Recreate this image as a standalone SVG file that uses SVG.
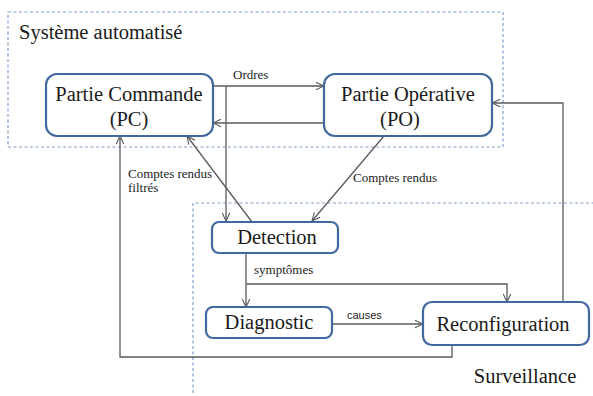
<svg xmlns="http://www.w3.org/2000/svg" width="593" height="396" viewBox="0 0 593 396">
<defs>
<marker id="arr" viewBox="0 0 10 10" refX="9.5" refY="5" markerWidth="9" markerHeight="9" markerUnits="userSpaceOnUse" orient="auto">
<path d="M0.5,0.8 L9.5,5 L0.5,9.2" fill="none" stroke="#555" stroke-width="1.2"/>
</marker>
</defs>
<style>
.zone{fill:none;stroke:#7f9fcc;stroke-width:1.2;stroke-dasharray:3 2.5}
.box{fill:#fff;stroke:#41689f;stroke-width:2.2}
.c{fill:none;stroke:#5a5a5a;stroke-width:1.3}
</style>
<rect width="593" height="396" fill="#fff"/>
<g id="zones">
<rect class="zone" x="8" y="12" width="495" height="135"/>
<path class="zone" d="M193,393 L193,203 L593,203"/>
<text x="19" y="39" font-family="Liberation Serif, serif" font-size="20.5" fill="#1a1a1a">Système automatisé</text>
<text x="525" y="383" font-family="Liberation Serif, serif" font-size="20.5" fill="#1a1a1a" text-anchor="middle">Surveillance</text>
</g>
<g id="connectors">
<path class="c" d="M213,86 L324,86" marker-end="url(#arr)"/>
<path class="c" d="M324,123 L213,123" marker-end="url(#arr)"/>
<path class="c" d="M226,86 L226,221" marker-end="url(#arr)"/>
<path class="c" d="M252,222 L187,136" marker-end="url(#arr)"/>
<path class="c" d="M384,136 L312,221" marker-end="url(#arr)"/>
<path class="c" d="M246,253 L246,307" marker-end="url(#arr)"/>
<path class="c" d="M246,284 L507,284 L507,302" marker-end="url(#arr)"/>
<path class="c" d="M332,324 L423,324" marker-end="url(#arr)"/>
<path class="c" d="M563,302 L563,103 L492,103" marker-end="url(#arr)"/>
<path class="c" d="M452,345 L452,357 L120,357 L120,136" marker-end="url(#arr)"/>
<text x="233" y="79" font-family="Liberation Serif, serif" font-size="13" fill="#222">Ordres</text>
<text x="128" y="178" font-family="Liberation Serif, serif" font-size="13" fill="#222">Comptes rendus</text>
<text x="128" y="192" font-family="Liberation Serif, serif" font-size="13" fill="#222">filtrés</text>
<text x="353" y="182" font-family="Liberation Serif, serif" font-size="13" fill="#222">Comptes rendus</text>
<text x="254" y="274" font-family="Liberation Serif, serif" font-size="13" fill="#222">symptômes</text>
<text x="347" y="319" font-family="Liberation Sans, sans-serif" font-size="11" fill="#222">causes</text>
</g>
<g id="pc">
<rect class="box" x="46" y="74" width="167" height="62" rx="11"/>
<text x="129" y="101" font-family="Liberation Serif, serif" font-size="20.5" fill="#1a1a1a" text-anchor="middle">Partie Commande</text>
<text x="129" y="126" font-family="Liberation Serif, serif" font-size="20.5" fill="#1a1a1a" text-anchor="middle">(PC)</text>
</g>
<g id="po">
<rect class="box" x="324" y="74" width="168" height="62" rx="11"/>
<text x="408" y="101" font-family="Liberation Serif, serif" font-size="20.5" fill="#1a1a1a" text-anchor="middle">Partie Opérative</text>
<text x="400" y="126" font-family="Liberation Serif, serif" font-size="20.5" fill="#1a1a1a" text-anchor="middle">(PO)</text>
</g>
<g id="detection">
<rect class="box" x="212" y="222" width="126" height="31" rx="7"/>
<text x="277" y="244" font-family="Liberation Serif, serif" font-size="20.5" fill="#1a1a1a" text-anchor="middle">Detection</text>
</g>
<g id="diagnostic">
<rect class="box" x="206" y="307" width="126" height="31" rx="7"/>
<text x="269" y="329" font-family="Liberation Serif, serif" font-size="20.5" fill="#1a1a1a" text-anchor="middle">Diagnostic</text>
</g>
<g id="reconfiguration">
<rect class="box" x="423" y="302" width="166" height="43" rx="9"/>
<text x="503" y="331" font-family="Liberation Serif, serif" font-size="20.5" fill="#1a1a1a" text-anchor="middle">Reconfiguration</text>
</g>
</svg>
